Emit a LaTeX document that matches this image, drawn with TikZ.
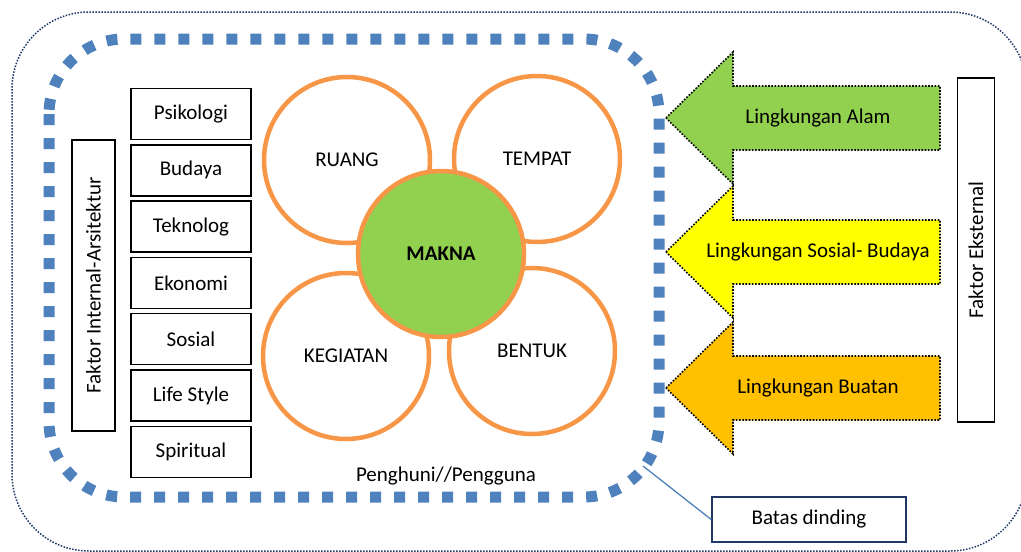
\documentclass[tikz,border=0pt]{standalone}
\usepackage{fontspec}
\setmainfont{Carlito}
\usepackage{xcolor}
\usepackage{tikz}
\usetikzlibrary{calc, positioning}
\definecolor{wallBlue}{HTML}{4F81BD}
\definecolor{ringOrange}{HTML}{F79646}
\definecolor{maknaGreen}{HTML}{92D050}
\definecolor{alamGreen}{HTML}{92D050}
\definecolor{sosialYellow}{HTML}{FFFF00}
\definecolor{buatanOrange}{HTML}{FFC000}
\definecolor{frameNavy}{HTML}{1F3864}
\tikzset{
    txt/.style={font=\fontsize{21}{25}\selectfont},
    ring/.style={circle, draw=ringOrange, line width=4.5pt, fill=white, minimum size=166pt, inner sep=0pt, txt},
    factorBox/.style={rectangle, draw=black, line width=1.4pt, fill=white, minimum width=120pt, minimum height=51pt, txt},
    sideBox/.style={rectangle, draw=black, line width=1.4pt, fill=white, inner sep=0pt, txt},
    envArrow/.style={draw=black, line width=1.6pt, dash pattern=on 1.6pt off 1.6pt},
    wall/.style={draw=wallBlue, line width=11pt, dash pattern=on 11pt off 13pt},
    calloutBox/.style={rectangle, draw=frameNavy, line width=1.6pt, fill=white, minimum width=194pt, minimum height=45pt, txt}
}

\begin{document}
\begin{tikzpicture}[x=1pt, y=-1pt]
    \useasboundingbox (0,0) rectangle (1021,552);

    % Outer frame
    \draw[frameNavy, line width=1.5pt, dash pattern=on 1.5pt off 1.5pt, rounded corners=77pt] (12,12) rectangle (1027,551);

    % Wall boundary
    \draw[wall, rounded corners=75pt] (49,39) rectangle (659,497);

    % Internal factors
    \node[sideBox, rotate=90, minimum width=291pt, minimum height=43pt] (faktorInt) at (93.5,285.5) {Faktor Internal-Arsitektur};
    \foreach \nm/\txt [count=\i from 0] in {psikologi/Psikologi, budaya/Budaya, teknolog/Teknolog, ekonomi/Ekonomi, sosial/Sosial, lifestyle/Life Style, spiritual/Spiritual}
        \node[factorBox] (\nm) at (191, 114+56.3*\i) {\txt};

    % Rings round the centre
    \node[ring] (ruang) at (347,160) {RUANG};
    \node[ring] (tempat) at (537,159) {TEMPAT};
    \node[ring] (kegiatan) at (346,356) {KEGIATAN};
    \node[ring] (bentuk) at (532,351) {BENTUK};
    \node[ring, fill=maknaGreen, font=\fontsize{21}{25}\selectfont\bfseries] (makna) at (441,254) {MAKNA};

    \node[txt] (penghuni) at (446,476) {Penghuni//Pengguna};

    % External environment arrows
    \foreach \nm/\yc/\col/\txt in {lingAlam/118/alamGreen/Lingkungan Alam, lingSosial/252/sosialYellow/Lingkungan Sosial- Budaya, lingBuatan/388/buatanOrange/Lingkungan Buatan} {
        \filldraw[envArrow, fill=\col] (666,\yc) -- (733,\yc-66) -- (733,\yc-32) -- (940,\yc-32) -- (940,\yc+32) -- (733,\yc+32) -- (733,\yc+66) -- cycle;
        \node[txt] (\nm) at (818,\yc) {\txt};
    }

    \node[sideBox, rotate=90, minimum width=344pt, minimum height=37pt] (faktorEks) at (976,250) {Faktor Eksternal};

    % Callout
    \coordinate (wallPt) at (643,466);
    \node[calloutBox] (batas) at (809,519.5) {Batas dinding};
    \draw[wallBlue, line width=1.3pt] (wallPt) -- (batas.west);

\end{tikzpicture}
\end{document}
